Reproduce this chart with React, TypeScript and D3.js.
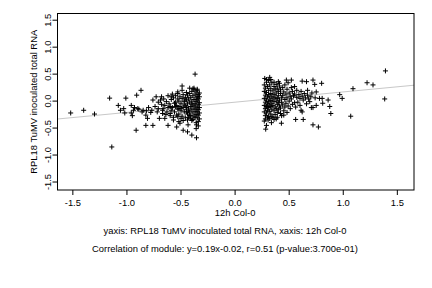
import React from "react";
import { scaleLinear } from "d3";

// x ticks / y ticks shown on the axes
const xTicks = [-1.5, -1.0, -0.5, 0.0, 0.5, 1.0, 1.5];
const yTicks = [-1.5, -1.0, -0.5, 0.0, 0.5, 1.0, 1.5];

// fitted line y = slope * x + intercept
const slope = 0.19;
const intercept = -0.02;

const xLabel = "12h Col-0";
const yLabel = "RPL18 TuMV inoculated total RNA";
const caption1 = "yaxis: RPL18 TuMV inoculated total RNA, xaxis: 12h Col-0";
const caption2 = "Correlation of module: y=0.19x-0.02, r=0.51 (p-value:3.700e-01)";

// genes below zero on the x axis
const leftGroup: [number, number][] = [
  [-1.52, -0.22], [-1.4, -0.17], [-1.3, -0.24], [-1.16, 0.055], [-1.14, -0.85],
  [-1.08, -0.08], [-1.01, 0.055], [-1.06, -0.17], [-1.03, -0.14], [-1.02, -0.22],
  [-0.96, -0.08], [-0.96, -0.22], [-0.95, -0.27], [-0.94, -0.17], [-0.91, 0.11],
  [-0.915, -0.54], [-0.9, -0.14], [-0.87, 0.2], [-0.85, -0.17], [-0.825, -0.26],
  [-0.825, -0.45], [-0.81, -0.32], [-0.76, -0.45], [-0.77, -0.17], [-0.76, 0.02],
  [-0.73, 0.08], [-0.71, -0.14], [-0.7, -0.32], [-0.69, 0.02], [-0.68, 0.08],
  [-0.67, -0.23], [-0.665, -0.14], [-0.65, -0.32], [-0.635, -0.01], [-0.62, -0.45],
  [-0.6, -0.1], [-0.6, -0.23], [-0.59, 0.08], [-0.57, -0.35], [-0.56, -0.04],
  [-0.54, -0.26], [-0.54, -0.48], [-0.53, 0.17], [-0.52, -0.14], [-0.51, -0.41],
  [-0.5, -0.32], [-0.49, 0.28], [-0.48, -0.54], [-0.465, 0.02], [-0.45, -0.2],
  [-0.44, -0.57], [-0.435, -0.44], [-0.42, -0.26], [-0.4, -0.63], [-0.39, 0.23],
  [-0.37, 0.5], [-0.36, -0.51], [-0.357, -0.68], [-0.357, -0.44], [-0.35, 0.2],
  [-0.34, -0.46],
  [-0.61, -0.05], [-0.59, 0.03], [-0.58, -0.12], [-0.57, 0.06], [-0.56, -0.2],
  [-0.55, -0.02], [-0.55, 0.1], [-0.54, -0.08], [-0.53, -0.15], [-0.53, 0.04],
  [-0.52, -0.24], [-0.52, 0.0], [-0.51, -0.1], [-0.51, 0.08], [-0.5, -0.18],
  [-0.5, -0.04], [-0.49, 0.05], [-0.49, -0.28], [-0.48, -0.12], [-0.48, 0.12],
  [-0.47, -0.2], [-0.47, -0.01], [-0.46, -0.31], [-0.46, 0.07], [-0.46, -0.09],
  [-0.45, -0.16], [-0.45, 0.02], [-0.44, -0.24], [-0.44, -0.05], [-0.44, 0.11],
  [-0.43, -0.13], [-0.43, 0.04], [-0.43, -0.3], [-0.42, -0.2], [-0.42, -0.02],
  [-0.42, 0.14], [-0.41, -0.1], [-0.41, 0.07], [-0.41, -0.27], [-0.4, -0.16],
  [-0.4, 0.0], [-0.4, 0.18], [-0.39, -0.22], [-0.39, -0.07], [-0.39, 0.1],
  [-0.39, -0.34], [-0.38, -0.13], [-0.38, 0.03], [-0.38, -0.28], [-0.38, 0.21],
  [-0.37, -0.19], [-0.37, -0.04], [-0.37, 0.13], [-0.37, -0.09], [-0.36, -0.25],
  [-0.36, 0.06], [-0.36, -0.15], [-0.36, 0.17], [-0.36, -0.01], [-0.35, -0.31],
  [-0.35, -0.11], [-0.35, 0.09], [-0.35, -0.2], [-0.35, 0.02], [-0.34, -0.06],
  [-0.34, -0.26], [-0.34, 0.12], [-0.34, -0.16], [-0.34, 0.04], [-0.33, -0.22],
  [-0.33, -0.03], [-0.33, -0.12], [-0.33, 0.08], [-0.33, -0.33], [-0.33, 0.15],
  [-0.34, -0.38], [-0.36, -0.4], [-0.4, -0.36], [-0.44, -0.35], [-0.48, -0.36],
  [-0.52, -0.38], [-0.57, -0.3], [-0.6, -0.27], [-0.63, -0.2], [-0.65, -0.08],
  [-0.66, 0.04], [-0.62, 0.1], [-0.58, 0.13], [-0.53, 0.14], [-0.49, 0.2],
  [-0.45, 0.16], [-0.42, 0.24], [-0.38, 0.24], [-0.35, 0.22], [-0.4, -0.05],
  [-0.45, -0.12], [-0.5, -0.14], [-0.55, -0.1], [-0.47, -0.07], [-0.43, -0.18],
  [-0.37, -0.3], [-0.41, -0.32], [-0.53, -0.29], [-0.59, -0.17], [-0.62, -0.12],
  [-0.68, -0.06], [-0.71, -0.02], [-0.74, -0.1], [-0.78, -0.21], [-0.8, -0.12],
  [-0.82, -0.18], [-0.86, -0.2], [-0.89, -0.15], [-0.93, -0.12], [-0.72, -0.2],
  [-0.67, -0.17], [-0.64, -0.25],
];

// genes above zero on the x axis
const rightGroup: [number, number][] = [
  [0.283, -0.52], [0.274, 0.42], [0.32, 0.44], [0.305, -0.35], [0.336, -0.4],
  [0.38, -0.33], [0.428, -0.41], [0.41, 0.33], [0.474, 0.39], [0.52, 0.39],
  [0.55, 0.27], [0.56, -0.34], [0.62, 0.37], [0.63, -0.34], [0.61, -0.17],
  [0.66, 0.36], [0.67, 0.2], [0.705, -0.12], [0.72, 0.39], [0.736, 0.31],
  [0.72, -0.44], [0.77, -0.48], [0.75, 0.17], [0.78, 0.05], [0.8, 0.33],
  [0.805, 0.05], [0.81, -0.04], [0.86, 0.02], [0.875, -0.1], [0.885, -0.23],
  [0.967, 0.12], [0.99, 0.05], [1.069, -0.28], [1.09, 0.23], [1.22, 0.34],
  [1.275, 0.3], [1.383, 0.04], [1.39, 0.56],
  [0.27, 0.3], [0.27, 0.18], [0.27, 0.05], [0.27, -0.08], [0.27, -0.2],
  [0.28, 0.24], [0.28, 0.11], [0.28, -0.02], [0.28, -0.14], [0.28, -0.27],
  [0.29, 0.35], [0.29, 0.16], [0.29, 0.02], [0.29, -0.1], [0.29, -0.22],
  [0.3, 0.27], [0.3, 0.08], [0.3, -0.05], [0.3, -0.17], [0.31, 0.2],
  [0.31, 0.12], [0.31, -0.01], [0.31, -0.12], [0.31, -0.28], [0.32, 0.3],
  [0.32, 0.06], [0.32, -0.07], [0.32, -0.19], [0.33, 0.23], [0.33, 0.14],
  [0.33, 0.01], [0.33, -0.1], [0.33, -0.24], [0.34, 0.34], [0.34, 0.09],
  [0.34, -0.04], [0.34, -0.15], [0.35, 0.19], [0.35, 0.04], [0.35, -0.08],
  [0.35, -0.3], [0.36, 0.27], [0.36, 0.12], [0.36, -0.01], [0.36, -0.18],
  [0.37, 0.22], [0.37, 0.07], [0.37, -0.11], [0.37, -0.25], [0.38, 0.31],
  [0.38, 0.15], [0.38, 0.0], [0.38, -0.14], [0.39, 0.24], [0.39, 0.05],
  [0.39, -0.06], [0.39, -0.21], [0.4, 0.18], [0.4, 0.1], [0.4, -0.03],
  [0.4, -0.16], [0.41, 0.28], [0.41, 0.02], [0.41, -0.09], [0.42, 0.14],
  [0.42, 0.21], [0.42, -0.13], [0.43, 0.06], [0.43, -0.02], [0.43, -0.27],
  [0.44, 0.25], [0.44, 0.1], [0.44, -0.07], [0.45, 0.17], [0.45, -0.18],
  [0.46, 0.03], [0.46, 0.3], [0.46, -0.11], [0.47, 0.13], [0.47, -0.04],
  [0.48, 0.22], [0.48, 0.06], [0.48, -0.21], [0.49, 0.34], [0.49, -0.09],
  [0.5, 0.15], [0.5, 0.0], [0.51, 0.09], [0.51, -0.14], [0.52, 0.25],
  [0.52, 0.04], [0.53, -0.06], [0.53, 0.18], [0.54, 0.1], [0.55, -0.03],
  [0.55, 0.13], [0.56, -0.11], [0.57, 0.07], [0.57, 0.2], [0.58, -0.02],
  [0.59, 0.12], [0.6, 0.05], [0.6, -0.08], [0.61, 0.18], [0.62, 0.09],
  [0.62, -0.2], [0.63, 0.02], [0.64, 0.14], [0.65, 0.06], [0.66, -0.05],
  [0.67, 0.11], [0.68, 0.04], [0.69, -0.01], [0.7, 0.08], [0.71, 0.15],
  [0.72, -0.12], [0.74, 0.06], [0.75, -0.08], [0.28, -0.33], [0.3, -0.3],
  [0.32, -0.32], [0.34, -0.29], [0.36, -0.34], [0.39, -0.3], [0.42, -0.23],
  [0.45, -0.26], [0.29, 0.4], [0.31, 0.38], [0.33, 0.4], [0.36, 0.35],
  [0.4, 0.36], [0.27, -0.37], [0.29, -0.45],
];

const width = 432;
const height = 288;
const plotLeft = 57.5;
const plotRight = 414;
const plotTop = 13.5;
const plotBottom = 190;
const font = "'Liberation Sans', Arial, Helvetica, sans-serif";
const fs = 9.4;

const App: React.FC = () => {
  const x = scaleLinear().domain([-1.642, 1.654]).range([plotLeft, plotRight]);
  const y = scaleLinear().domain([-1.648, 1.624]).range([plotBottom, plotTop]);
  const points = [...leftGroup, ...rightGroup];
  const [x0, x1] = x.domain();
  const arm = 2.5;

  return (
    <svg
      width={width}
      height={height}
      style={{ position: "absolute", left: 0, top: 0, background: "#fff" }}
      fontFamily={font}
      fontSize={fs}
    >
      <line
        x1={x(x0)}
        y1={y(slope * x0 + intercept)}
        x2={x(x1)}
        y2={y(slope * x1 + intercept)}
        stroke="#c8c8c8"
        strokeWidth={1}
      />
      <g stroke="#000" strokeWidth={1}>
        {points.map(([px, py], i) => {
          const cx = x(px);
          const cy = y(py);
          return (
            <path
              key={i}
              d={`M${cx - arm},${cy}h${arm * 2}M${cx},${cy - arm}v${arm * 2}`}
            />
          );
        })}
      </g>
      <rect
        x={plotLeft}
        y={plotTop}
        width={plotRight - plotLeft}
        height={plotBottom - plotTop}
        fill="none"
        stroke="#000"
        strokeWidth={1}
      />
      {xTicks.map((t) => (
        <g key={`x${t}`}>
          <line x1={x(t)} x2={x(t)} y1={plotBottom} y2={plotBottom + 5} stroke="#000" />
          <text x={x(t)} y={205.5} textAnchor="middle">
            {t.toFixed(1)}
          </text>
        </g>
      ))}
      {yTicks.map((t) => (
        <g key={`y${t}`}>
          <line x1={plotLeft - 5} x2={plotLeft} y1={y(t)} y2={y(t)} stroke="#000" />
          <text
            transform={`translate(${plotLeft - 7},${y(t)}) rotate(-90)`}
            textAnchor="middle"
          >
            {t.toFixed(1)}
          </text>
        </g>
      ))}
      <text x={x(0)} y={215.5} textAnchor="middle">
        {xLabel}
      </text>
      <text transform={`translate(36.5,${(plotTop + plotBottom) / 2}) rotate(-90)`} textAnchor="middle">
        {yLabel}
      </text>
      <text x={225} y={234} textAnchor="middle">
        {caption1}
      </text>
      <text x={225} y={252} textAnchor="middle">
        {caption2}
      </text>
    </svg>
  );
};

export default App;
